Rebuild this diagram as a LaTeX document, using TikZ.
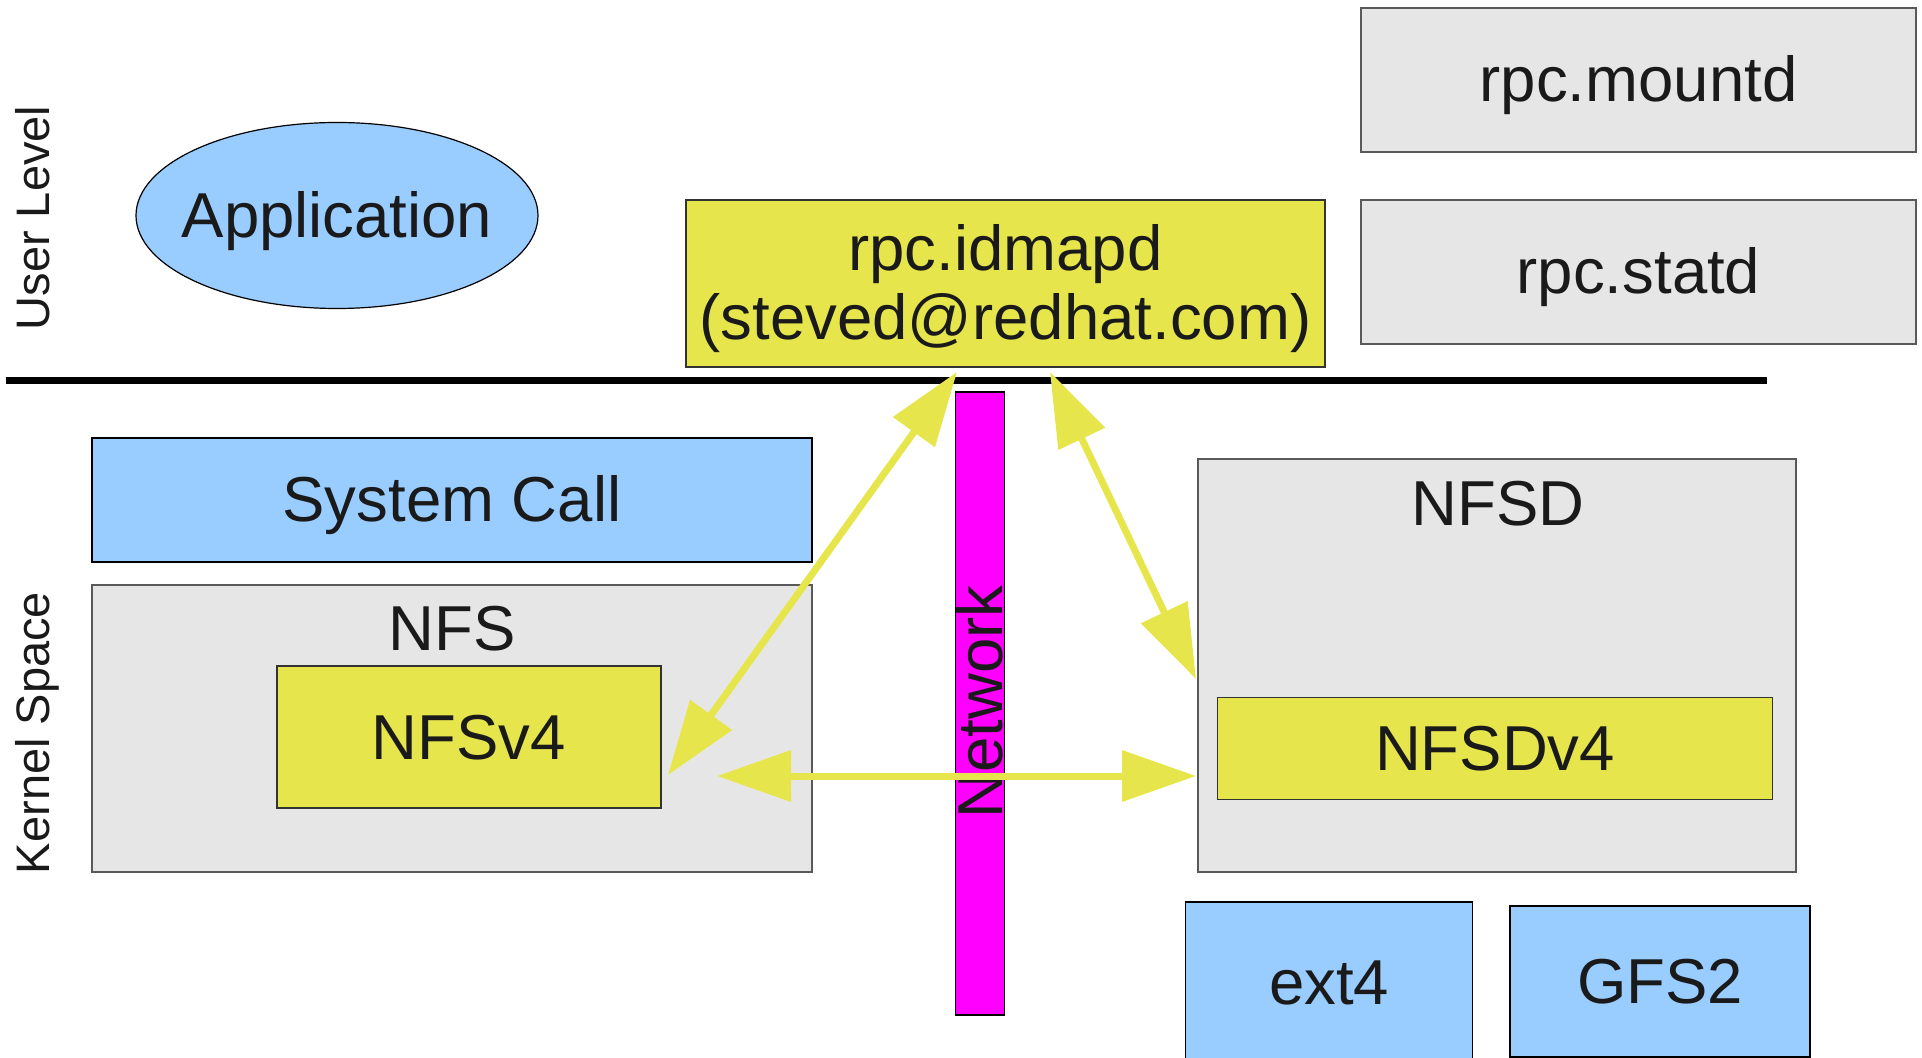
\documentclass[tikz,border=0pt]{standalone}
\usepackage{fontspec}
\setmainfont{Liberation Sans}
\usetikzlibrary{arrows.meta,shapes.geometric}
\definecolor{yel}{HTML}{E6E64C}
\definecolor{lblue}{HTML}{99CCFF}
\definecolor{lgray}{HTML}{E6E6E6}
\definecolor{mag}{HTML}{FF00FF}
\definecolor{txt}{HTML}{1A1A1A}
\definecolor{gborder}{HTML}{5A5A5A}
\definecolor{yborder}{HTML}{333333}
\begin{document}
\begin{tikzpicture}[x=0.5pt,y=-0.5pt,
  bigtxt/.style={font=\fontsize{31.75pt}{36pt}\selectfont, text=txt, text height=28.7pt, text depth=6.7pt, inner sep=0pt},
  smalltxt/.style={font=\fontsize{23.5pt}{27pt}\selectfont, text=txt, text height=21.3pt, text depth=5pt, inner sep=0pt},
  graybox/.style={rectangle, draw=gborder, fill=lgray, line width=0.6pt, inner sep=0pt},
  bluebox/.style={rectangle, draw=black, fill=lblue, line width=0.6pt, inner sep=0pt},
  yelbox/.style={rectangle, draw=yborder, fill=yel, line width=0.6pt, inner sep=0pt},
  conn/.style={draw=yel, line width=3.5pt, {Triangle[length=37pt,width=25pt]}-{Triangle[length=37pt,width=25pt]}}
]
\useasboundingbox (0,0) rectangle (1922,1058);

% layer labels
\node[smalltxt, rotate=90] (userlvl) at (33,218) {User Level};
\node[smalltxt, rotate=90] (kernsp) at (33,733) {Kernel Space};

% user level
\node[ellipse, draw=black, fill=lblue, line width=0.6pt, inner sep=0pt,
      minimum width=402*0.5pt, minimum height=186*0.5pt] (app) at (337,215.5) {};
\node[bigtxt] (applbl) at (app.center) {Application};

\node[yelbox, minimum width=639*0.5pt, minimum height=167*0.5pt] (idmapd) at (1005.5,283.5) {};
\node[bigtxt] (idmapdA) at (1005.5,249) {rpc.idmapd};
\node[bigtxt] (idmapdB) at (1005.5,318) {(steved@redhat.com)};

\node[graybox, bigtxt, minimum width=555*0.5pt, minimum height=144*0.5pt] (mountd) at (1638.5,80) {rpc.mountd};
\node[graybox, bigtxt, minimum width=555*0.5pt, minimum height=144*0.5pt] (statd) at (1638.5,272) {rpc.statd};

% separator
\coordinate (sepL) at (6,381);
\coordinate (sepR) at (1767,381);
\draw[line width=3.5pt, black] (sepL) -- (sepR);

% kernel space, client side
\node[bluebox, bigtxt, minimum width=720*0.5pt, minimum height=124*0.5pt] (syscall) at (452,500) {System Call};
\node[graybox, minimum width=720*0.5pt, minimum height=287*0.5pt] (nfs) at (452,728.5) {};
\node[bigtxt] (nfslbl) at (452,629) {NFS};
\node[yelbox, bigtxt, minimum width=384*0.5pt, minimum height=142*0.5pt] (nfsv4) at (469,737) {NFSv4};

% network
\node[rectangle, draw=black, fill=mag, line width=0.6pt, inner sep=0pt,
      minimum width=48.5*0.5pt, minimum height=623*0.5pt] (net) at (980,703.5) {};
\node[bigtxt, rotate=90] (netlbl) at (980,702) {Network};

% server side
\node[graybox, minimum width=598*0.5pt, minimum height=413*0.5pt] (nfsd) at (1497,665.5) {};
\node[bigtxt] (nfsdlbl) at (1498,504) {NFSD};
\node[yelbox, bigtxt, minimum width=555*0.5pt, minimum height=102.5*0.5pt] (nfsdv4) at (1495,748.5) {NFSDv4};

\node[bluebox, bigtxt, minimum width=287*0.5pt, minimum height=160*0.5pt] (ext4) at (1329,982) {ext4};
\node[bluebox, bigtxt, minimum width=300*0.5pt, minimum height=151*0.5pt] (gfs2) at (1660,981.5) {GFS2};

% connectors
\coordinate (a1s) at (957,372);
\coordinate (a1e) at (668,775);
\coordinate (a2s) at (1050,372);
\coordinate (a2e) at (1196,679);
\coordinate (a3s) at (717,776);
\coordinate (a3e) at (1196,776);
\draw[conn] (a1s) -- (a1e);
\draw[conn] (a2s) -- (a2e);
\draw[conn] (a3s) -- (a3e);
\end{tikzpicture}
\end{document}
